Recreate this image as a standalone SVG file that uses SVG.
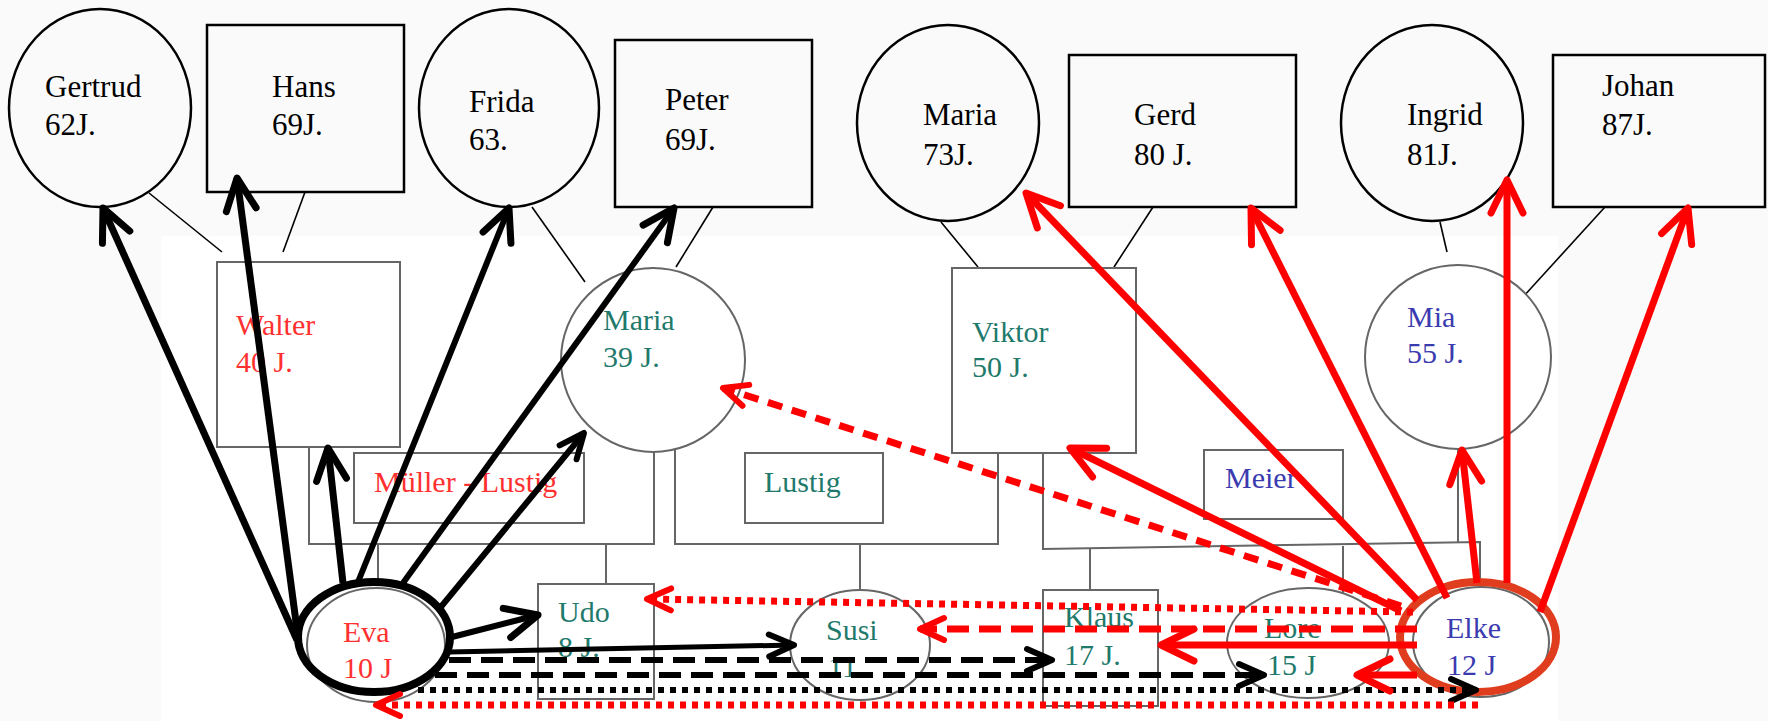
<svg xmlns="http://www.w3.org/2000/svg" width="1768" height="721" viewBox="0 0 1768 721">
<style>
.top{fill:none;stroke:#000;stroke-width:2.5}
.mid{fill:#fff;stroke:#666;stroke-width:2}
.midnf{fill:none;stroke:#666;stroke-width:2}
.fam{fill:none;stroke:#666;stroke-width:2}
.tl{stroke:#000;stroke-width:1.6;fill:none}
text{font-family:"Liberation Serif","Times New Roman",serif}
.tt{font-size:31px;fill:#000}
.tm{font-size:30px}
.red{fill:#ff3030}
.teal{fill:#1f7a6b}
.blue{fill:#3b3bb0}
.bk{stroke:#000;fill:none;stroke-width:7}
.bk6{stroke:#000;fill:none;stroke-width:6}
.bk5{stroke:#000;fill:none;stroke-width:5}
.rd{stroke:#ff0000;fill:none;stroke-width:7}
.dash{stroke-dasharray:22 10}
.rdash{stroke-dasharray:15 10}
.dot{stroke-dasharray:6 6}
</style>
<defs>
<marker id="mB" markerUnits="userSpaceOnUse" viewBox="-40 -40 80 80" markerWidth="80" markerHeight="80" refX="0" refY="0" orient="auto"><path d="M-32,-15 L0,0 L-32,15" fill="none" stroke="#000" stroke-width="7" stroke-linecap="round" stroke-linejoin="round"/></marker>
<marker id="mBs" markerUnits="userSpaceOnUse" viewBox="-40 -40 80 80" markerWidth="80" markerHeight="80" refX="0" refY="0" orient="auto"><path d="M-25,-11 L0,0 L-25,11" fill="none" stroke="#000" stroke-width="6" stroke-linecap="round" stroke-linejoin="round"/></marker>
<marker id="mR" markerUnits="userSpaceOnUse" viewBox="-40 -40 80 80" markerWidth="80" markerHeight="80" refX="0" refY="0" orient="auto"><path d="M-33,-16 L0,0 L-33,16" fill="none" stroke="#ff0000" stroke-width="7" stroke-linecap="round" stroke-linejoin="round"/></marker>
<marker id="mRs" markerUnits="userSpaceOnUse" viewBox="-40 -40 80 80" markerWidth="80" markerHeight="80" refX="0" refY="0" orient="auto"><path d="M-24,-11 L0,0 L-24,11" fill="none" stroke="#ff0000" stroke-width="6" stroke-linecap="round" stroke-linejoin="round"/></marker>
</defs>
<rect x="0" y="0" width="1768" height="721" fill="#fafafa"/>
<rect x="161" y="236" width="1397" height="485" fill="#fff"/>

<g id="top-lines">
<line class="tl" x1="149" y1="193" x2="222" y2="252"/>
<line class="tl" x1="305" y1="192" x2="283" y2="252"/>
<line class="tl" x1="532" y1="207" x2="585" y2="282"/>
<line class="tl" x1="713" y1="207" x2="676" y2="267"/>
<line class="tl" x1="941" y1="222" x2="978" y2="267"/>
<line class="tl" x1="1153" y1="207" x2="1114" y2="267"/>
<line class="tl" x1="1440" y1="222" x2="1447" y2="252"/>
<line class="tl" x1="1605" y1="207" x2="1523" y2="297"/>
</g>

<g id="family-lines">
<path class="fam" d="M309,447 V544 H654 V452"/>
<path class="fam" d="M378,544 V582"/>
<path class="fam" d="M606,544 V584"/>
<path class="fam" d="M675,450 V544 H998 V453"/>
<path class="fam" d="M860,544 V590"/>
<path class="fam" d="M1043,453 V549 L1480,542 V583"/>
<path class="fam" d="M1458,449 V543"/>
<path class="fam" d="M1090,548 V590"/>
<path class="fam" d="M1343,546 V593"/>
</g>

<g id="gertrud"><ellipse class="top" cx="100" cy="108" rx="91" ry="99"/><text class="tt" x="45" y="97">Gertrud</text><text class="tt" x="45" y="135">62J.</text></g>
<g id="hans"><rect class="top" x="207" y="25" width="197" height="167"/><text class="tt" x="272" y="97">Hans</text><text class="tt" x="272" y="135">69J.</text></g>
<g id="frida"><ellipse class="top" cx="509" cy="108" rx="90" ry="99"/><text class="tt" x="469" y="112">Frida</text><text class="tt" x="469" y="150">63.</text></g>
<g id="peter"><rect class="top" x="615" y="40" width="197" height="167"/><text class="tt" x="665" y="110">Peter</text><text class="tt" x="665" y="150">69J.</text></g>
<g id="maria73"><ellipse class="top" cx="948" cy="123" rx="91" ry="98"/><text class="tt" x="923" y="125">Maria</text><text class="tt" x="923" y="165">73J.</text></g>
<g id="gerd"><rect class="top" x="1069" y="55" width="227" height="152"/><text class="tt" x="1134" y="125">Gerd</text><text class="tt" x="1134" y="165">80 J.</text></g>
<g id="ingrid"><ellipse class="top" cx="1432" cy="123" rx="91" ry="98"/><text class="tt" x="1407" y="125">Ingrid</text><text class="tt" x="1407" y="165">81J.</text></g>
<g id="johan"><rect class="top" x="1553" y="55" width="212" height="152"/><text class="tt" x="1602" y="96">Johan</text><text class="tt" x="1602" y="135">87J.</text></g>

<g id="walter"><rect class="mid" x="217" y="262" width="183" height="185"/><text class="tm red" x="236" y="335">Walter</text><text class="tm red" x="236" y="372">40 J.</text></g>
<g id="maria39"><ellipse class="mid" cx="653" cy="360" rx="92" ry="92"/><text class="tm teal" x="603" y="330">Maria</text><text class="tm teal" x="603" y="367">39 J.</text></g>
<g id="viktor"><rect class="mid" x="952" y="268" width="184" height="185"/><text class="tm teal" x="972" y="342">Viktor</text><text class="tm teal" x="972" y="377">50 J.</text></g>
<g id="mia"><ellipse class="mid" cx="1458" cy="357" rx="93" ry="92"/><text class="tm blue" x="1407" y="327">Mia</text><text class="tm blue" x="1407" y="363">55 J.</text></g>

<g id="mueller-lustig"><rect class="mid" x="354" y="453" width="230" height="70"/><text class="tm red" x="374" y="492">Müller - Lustig</text></g>
<g id="lustig"><rect class="mid" x="745" y="453" width="138" height="70"/><text class="tm teal" x="764" y="492">Lustig</text></g>
<g id="meier"><rect class="mid" x="1204" y="450" width="139" height="69"/><text class="tm blue" x="1225" y="488">Meier</text></g>

<g id="eva"><ellipse class="mid" cx="376" cy="645" rx="69" ry="57"/><ellipse cx="374" cy="637" rx="76" ry="55" fill="none" stroke="#000" stroke-width="8"/><text class="tm red" x="343" y="642">Eva</text><text class="tm red" x="343" y="678">10 J</text></g>
<g id="udo"><rect class="mid" x="538" y="584" width="116" height="115"/><text class="tm teal" x="558" y="622">Udo</text><text class="tm teal" x="558" y="657">8 J.</text></g>
<g id="susi"><ellipse class="mid" cx="860" cy="645" rx="70" ry="55"/><text class="tm teal" x="826" y="640">Susi</text><text class="tm teal" x="828" y="677">11</text></g>
<g id="klaus"><rect class="mid" x="1043" y="590" width="115" height="116"/><text class="tm teal" x="1064" y="627">Klaus</text><text class="tm teal" x="1064" y="665">17 J.</text></g>
<g id="lore"><ellipse class="mid" cx="1308" cy="643" rx="81" ry="55"/><text class="tm teal" x="1264" y="638">Lore</text><text class="tm teal" x="1267" y="675">15 J</text></g>
<g id="elke"><ellipse class="mid" cx="1481" cy="642" rx="68" ry="55"/><ellipse cx="1478" cy="637" rx="78" ry="55" fill="none" stroke="#e03c1e" stroke-width="8"/><text class="tm blue" x="1446" y="638">Elke</text><text class="tm blue" x="1447" y="675">12 J</text></g>

<g id="connectors">
<!-- from Eva -->
<line class="bk" x1="297" y1="640" x2="103" y2="208" marker-end="url(#mB)"/>
<line class="bk" x1="298" y1="637" x2="237" y2="178" marker-end="url(#mB)"/>
<line class="bk" x1="343" y1="583" x2="328" y2="448" marker-end="url(#mB)"/>
<line class="bk6" x1="358" y1="582" x2="509" y2="208" marker-end="url(#mB)"/>
<line class="bk6" x1="403" y1="583" x2="674" y2="208" marker-end="url(#mB)"/>
<line class="bk6" x1="440" y1="608" x2="584" y2="433" marker-end="url(#mBs)"/>
<line class="bk6" x1="452" y1="637" x2="538" y2="615" marker-end="url(#mB)"/>
<line class="bk5" x1="449" y1="652" x2="794" y2="645" marker-end="url(#mBs)"/>
<line class="bk6 dash" x1="449" y1="660" x2="1052" y2="660" marker-end="url(#mBs)"/>
<line class="bk6 dash" x1="435" y1="675" x2="1264" y2="675" marker-end="url(#mBs)"/>
<line class="bk6 dot" x1="418" y1="690" x2="1476" y2="690" marker-end="url(#mBs)"/>
<!-- from Elke -->
<line class="rd" x1="1417" y1="600" x2="1026" y2="193" marker-end="url(#mR)"/>
<line class="rd" x1="1447" y1="598" x2="1251" y2="208" marker-end="url(#mR)"/>
<line class="rd" x1="1507" y1="583" x2="1507" y2="180" marker-end="url(#mR)"/>
<line class="rd" x1="1540" y1="612" x2="1688" y2="208" marker-end="url(#mR)"/>
<line class="rd" x1="1477" y1="583" x2="1462" y2="450" marker-end="url(#mR)"/>
<line class="rd" x1="1401" y1="611" x2="1070" y2="448" marker-end="url(#mR)"/>
<line class="rd rdash" stroke-width="5" x1="1401" y1="606" x2="723" y2="388" marker-end="url(#mRs)"/>
<line class="rd dot" stroke-width="5" x1="1413" y1="612" x2="647" y2="599" marker-end="url(#mRs)"/>
<line class="rd dash" stroke-width="6" x1="1417" y1="629" x2="920" y2="629" marker-end="url(#mRs)"/>
<line class="rd" x1="1417" y1="645" x2="1161" y2="645" marker-end="url(#mR)"/>
<line class="rd" x1="1417" y1="675" x2="1357" y2="675" marker-end="url(#mR)"/>
<line class="rd dot" stroke-width="5" x1="1478" y1="705" x2="376" y2="705" marker-end="url(#mRs)"/>
</g>
</svg>
